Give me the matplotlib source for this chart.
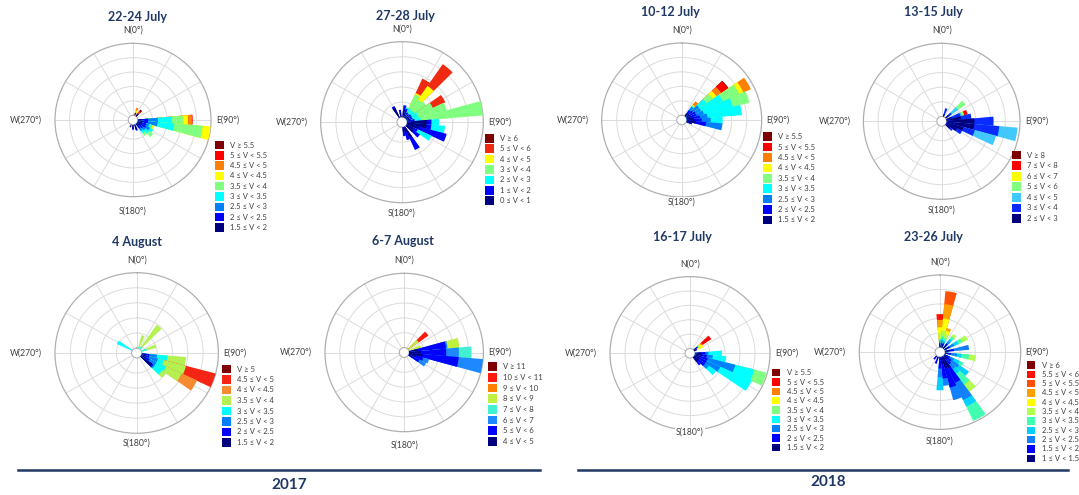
import numpy as np
import matplotlib
matplotlib.use("Agg")
import matplotlib.pyplot as plt
from matplotlib.patches import Rectangle
from matplotlib.lines import Line2D

W, H = 1079, 495
FONT = ["Lato", "DejaVu Sans"]
NAVY = "#1f3864"
TXT = "#404040"

# ---------------------------------------------------------------- data
# Speed classes are listed top-to-bottom as in each legend (fast -> calm).
# Each frequency row holds one direction sector, calm -> fast, in ring units
# (the outer ring is 5).

classes_9 = ["V ≥ 5.5", "5 ≤ V < 5.5", "4.5 ≤ V < 5", "4 ≤ V < 4.5",
             "3.5 ≤ V < 4", "3 ≤ V < 3.5", "2.5 ≤ V < 3", "2 ≤ V < 2.5",
             "1.5 ≤ V < 2"]

# 2017 -- 22-24 July
dirs_22jul = [20, 40, 90, 100, 110, 120, 130, 140, 160, 180, 200]
freq_22jul = [
    [0.20, 0.00, 0.00, 0.00, 0.00, 0.15, 0.20, 0.00, 0.00],
    [0.15, 0.10, 0.00, 0.00, 0.00, 0.00, 0.10, 0.10, 0.10],
    [0.30, 0.40, 0.67, 0.96, 0.75, 0.34, 0.28, 0.05, 0.00],
    [0.35, 0.35, 0.65, 1.15, 1.95, 0.55, 0.00, 0.00, 0.00],
    [0.30, 0.30, 0.20, 0.15, 0.10, 0.15, 0.00, 0.00, 0.00],
    [0.30, 0.35, 0.30, 0.25, 0.00, 0.00, 0.00, 0.00, 0.00],
    [0.25, 0.25, 0.20, 0.30, 0.35, 0.00, 0.00, 0.00, 0.00],
    [0.20, 0.20, 0.20, 0.20, 0.20, 0.00, 0.00, 0.00, 0.00],
    [0.35, 0.10, 0.00, 0.00, 0.00, 0.00, 0.00, 0.00, 0.00],
    [0.30, 0.05, 0.00, 0.00, 0.00, 0.00, 0.00, 0.00, 0.00],
    [0.20, 0.00, 0.00, 0.00, 0.00, 0.00, 0.00, 0.00, 0.00],
]

# 2017 -- 27-28 July
classes_27jul = ["V ≥ 6", "5 ≤ V < 6", "4 ≤ V < 5", "3 ≤ V < 4",
                 "2 ≤ V < 3", "1 ≤ V < 2", "0 ≤ V < 1"]
dirs_27jul = [330, 350, 10, 20, 30, 40, 50, 60, 70, 80, 90, 100, 110, 120,
              130, 150, 160, 170]
freq_27jul = [
    [0.75, 0.10, 0.00, 0.00, 0.00, 0.00, 0.00],
    [0.30, 0.20, 0.00, 0.00, 0.00, 0.00, 0.00],
    [0.45, 0.35, 0.00, 0.00, 0.00, 0.00, 0.00],
    [0.30, 0.30, 0.10, 0.00, 0.00, 0.00, 0.00],
    [0.20, 0.20, 0.30, 1.00, 0.10, 1.05, 0.00],
    [0.15, 0.20, 0.30, 0.85, 1.10, 1.75, 0.00],
    [0.20, 0.20, 0.30, 0.90, 0.00, 0.00, 0.00],
    [0.20, 0.20, 0.40, 1.10, 0.00, 0.90, 0.00],
    [0.20, 0.20, 0.40, 1.90, 0.00, 0.00, 0.00],
    [0.20, 0.30, 0.40, 4.10, 0.00, 0.00, 0.00],
    [1.30, 0.30, 0.50, 0.00, 0.00, 0.00, 0.00],
    [1.30, 0.30, 0.90, 0.00, 0.00, 0.00, 0.00],
    [0.80, 1.90, 0.00, 0.00, 0.00, 0.00, 0.00],
    [0.50, 0.30, 1.00, 0.00, 0.00, 0.00, 0.00],
    [0.60, 0.50, 0.00, 0.00, 0.00, 0.00, 0.00],
    [0.80, 0.90, 0.00, 0.00, 0.00, 0.00, 0.00],
    [0.40, 0.50, 0.00, 0.00, 0.00, 0.00, 0.00],
    [0.30, 0.30, 0.00, 0.00, 0.00, 0.00, 0.00],
]

# 2017 -- 4 August
classes_4aug = ["V ≥ 5", "4.5 ≤ V < 5", "4 ≤ V < 4.5", "3.5 ≤ V < 4",
                "3 ≤ V < 3.5", "2.5 ≤ V < 3", "2 ≤ V < 2.5", "1.5 ≤ V < 2"]
dirs_4aug = [20, 40, 70, 100, 110, 120, 130, 300]
freq_4aug = [
    [0.00, 0.00, 0.00, 0.10, 0.80, 0.00, 0.00, 0.00],
    [0.00, 0.00, 0.00, 0.20, 1.75, 0.00, 0.00, 0.00],
    [0.00, 0.00, 0.00, 0.35, 0.65, 0.00, 0.00, 0.00],
    [0.30, 0.20, 0.50, 0.70, 1.20, 0.00, 0.00, 0.00],
    [0.30, 0.20, 0.60, 0.40, 1.50, 0.00, 2.00, 0.00],
    [0.30, 0.30, 0.50, 0.70, 1.10, 1.10, 0.00, 0.00],
    [0.90, 0.10, 0.10, 0.60, 0.30, 0.00, 0.00, 0.00],
    [0.00, 0.00, 0.00, 1.10, 0.00, 0.00, 0.00, 0.00],
]

# 2017 -- 6-7 August
classes_6aug = ["V ≥ 11", "10 ≤ V < 11", "9 ≤ V < 10", "8 ≤ V < 9",
                "7 ≤ V < 8", "6 ≤ V < 7", "5 ≤ V < 6", "4 ≤ V < 5"]
dirs_6aug = [50, 70, 80, 90, 100, 110, 120]
freq_6aug = [
    [0.00, 0.00, 0.00, 0.00, 0.86, 0.00, 0.80, 0.00],
    [0.00, 0.00, 0.00, 0.10, 0.75, 0.00, 0.00, 0.00],
    [0.60, 1.90, 0.10, 0.00, 0.80, 0.00, 0.00, 0.00],
    [0.80, 1.70, 0.85, 0.85, 0.00, 0.00, 0.00, 0.00],
    [0.90, 2.45, 1.65, 0.00, 0.00, 0.00, 0.00, 0.00],
    [0.50, 0.50, 0.40, 0.00, 0.00, 0.00, 0.00, 0.00],
    [0.30, 0.50, 0.50, 0.00, 0.00, 0.00, 0.00, 0.00],
]

# 2018 -- 10-12 July
dirs_10jul = [40, 50, 60, 70, 80, 90, 100, 110]
freq_10jul = [
    [0.20, 0.30, 0.30, 0.05, 0.05, 0.05, 0.30, 0.00, 0.00],
    [0.30, 0.30, 0.50, 0.60, 0.50, 0.30, 0.40, 0.55, 0.05],
    [0.30, 0.40, 0.40, 1.60, 1.20, 0.30, 0.55, 0.00, 0.00],
    [0.30, 0.40, 0.50, 2.00, 1.15, 0.00, 0.00, 0.00, 0.00],
    [0.40, 0.50, 0.50, 2.30, 0.00, 0.00, 0.00, 0.00, 0.00],
    [0.50, 0.50, 0.60, 0.80, 0.00, 0.00, 0.00, 0.00, 0.00],
    [0.60, 0.70, 1.10, 0.00, 0.00, 0.00, 0.00, 0.00, 0.00],
    [0.30, 0.10, 0.00, 0.00, 0.00, 0.00, 0.00, 0.00, 0.00],
]

# 2018 -- 13-15 July
classes_13jul = ["V ≥ 8", "7 ≤ V < 8", "6 ≤ V < 7", "5 ≤ V < 6",
                 "4 ≤ V < 5", "3 ≤ V < 4", "2 ≤ V < 3"]
dirs_13jul = [20, 50, 70, 80, 90, 100, 110, 120, 130]
freq_13jul = [
    [0.20, 0.40, 0.00, 0.00, 0.00, 0.00, 0.00],
    [0.30, 0.20, 0.55, 0.60, 0.00, 0.00, 0.00],
    [0.40, 0.60, 0.10, 0.10, 0.05, 0.25, 0.00],
    [1.00, 0.70, 0.00, 0.00, 0.00, 0.00, 0.00],
    [1.90, 1.30, 0.00, 0.00, 0.00, 0.00, 0.00],
    [1.90, 1.70, 1.25, 0.00, 0.00, 0.00, 0.00],
    [1.20, 0.80, 1.50, 0.00, 0.00, 0.00, 0.00],
    [0.80, 0.40, 0.00, 0.00, 0.00, 0.00, 0.00],
    [0.40, 0.20, 0.00, 0.00, 0.00, 0.00, 0.00],
]

# 2018 -- 16-17 July
dirs_16jul = [50, 60, 90, 100, 110, 120, 130, 140]
freq_16jul = [
    [0.20, 0.10, 0.05, 0.05, 0.05, 0.15, 0.10, 0.70, 0.00],
    [0.10, 0.10, 0.00, 0.00, 0.00, 0.45, 0.00, 0.00, 0.00],
    [0.40, 0.30, 0.20, 0.90, 0.00, 0.00, 0.00, 0.00, 0.00],
    [0.50, 0.30, 0.40, 0.90, 0.00, 0.00, 0.00, 0.00, 0.00],
    [0.40, 0.50, 1.90, 1.30, 0.85, 0.00, 0.00, 0.00, 0.00],
    [0.40, 0.50, 1.00, 2.30, 0.00, 0.00, 0.00, 0.00, 0.00],
    [0.40, 0.50, 0.30, 0.60, 0.00, 0.00, 0.00, 0.00, 0.00],
    [0.40, 0.30, 0.00, 0.00, 0.00, 0.00, 0.00, 0.00, 0.00],
]

# 2018 -- 23-26 July
classes_23jul = ["V ≥ 6", "5.5 ≤ V < 6", "5 ≤ V < 5.5", "4.5 ≤ V < 5",
                 "4 ≤ V < 4.5", "3.5 ≤ V < 4", "3 ≤ V < 3.5", "2.5 ≤ V < 3",
                 "2 ≤ V < 2.5", "1.5 ≤ V < 2", "1 ≤ V < 1.5"]
dirs_23jul = [0, 10, 20, 40, 60, 80, 100, 120, 130, 140, 150, 160, 170,
              180, 200, 220]
freq_23jul = [
    [0.20, 0.10, 0.10, 0.10, 0.10, 0.40, 0.40, 0.50, 0.00, 0.40, 0.00],
    [0.15, 0.15, 0.15, 0.15, 0.20, 0.40, 0.80, 1.00, 0.90, 0.00, 0.00],
    [0.20, 0.10, 0.10, 0.10, 0.20, 0.30, 0.20, 0.20, 0.00, 0.00, 0.00],
    [0.20, 0.20, 0.20, 0.20, 0.20, 0.20, 0.00, 0.00, 0.00, 0.00, 0.00],
    [0.20, 0.20, 0.30, 0.30, 0.30, 0.40, 0.00, 0.00, 0.00, 0.00, 0.00],
    [0.30, 0.30, 1.00, 0.00, 0.00, 0.00, 0.00, 0.00, 0.00, 0.00, 0.00],
    [0.20, 0.20, 0.40, 0.30, 0.50, 0.45, 0.00, 0.00, 0.00, 0.00, 0.00],
    [0.20, 0.20, 0.30, 0.40, 0.30, 0.00, 0.00, 0.00, 0.00, 0.00, 0.00],
    [0.30, 0.30, 0.60, 0.80, 0.00, 0.00, 0.00, 0.00, 0.00, 0.00, 0.00],
    [0.30, 0.40, 0.40, 0.40, 0.90, 0.60, 0.00, 0.00, 0.00, 0.00, 0.00],
    [0.90, 1.10, 1.30, 0.50, 1.10, 0.00, 0.00, 0.00, 0.00, 0.00, 0.00],
    [0.80, 1.40, 0.90, 0.00, 0.00, 0.00, 0.00, 0.00, 0.00, 0.00, 0.00],
    [0.50, 1.00, 0.50, 0.00, 0.00, 0.00, 0.00, 0.00, 0.00, 0.00, 0.00],
    [0.20, 0.60, 0.60, 0.90, 0.00, 0.00, 0.00, 0.00, 0.00, 0.00, 0.00],
    [0.20, 0.30, 0.00, 0.00, 0.00, 0.00, 0.00, 0.00, 0.00, 0.00, 0.00],
    [0.20, 0.10, 0.00, 0.00, 0.00, 0.00, 0.00, 0.00, 0.00, 0.00, 0.00],
]

years = ["2017", "2018"]

# ---------------------------------------------------------------- styles
colors_9 = ["#7f0000", "#ff0000", "#ff8000", "#ffff00", "#80ff80",
            "#00ffff", "#0080ff", "#0000ff", "#00007f"]
colors_27jul = ["#7f0000", "#f02a10", "#ffff00", "#80ff80", "#00ffff",
                "#0000ff", "#00007f"]
colors_4aug = ["#7f0000", "#f52515", "#f58a30", "#b4f050", "#00ffff",
               "#0080ff", "#0000ff", "#00007f"]
colors_6aug = ["#7f0000", "#ff1a10", "#ff8000", "#c0f040", "#40f0d0",
               "#1e88ff", "#0000ff", "#00007f"]
colors_13jul = ["#7f0000", "#ff0000", "#ffff00", "#80ff80", "#40c8ff",
                "#0a2aff", "#00007f"]
colors_23jul = ["#7f0000", "#ff1000", "#ff5000", "#ffa000", "#ffff00",
                "#b0ff50", "#40ffb0", "#00d0ff", "#1080ff", "#0000ff",
                "#00007f"]

# ---------------------------------------------------------------- layout (px)
# box: circle centre x, centre y, x radius, y radius
# leg: left x of swatches, centre y of first row, row pitch
# sgap: distance from the circle bottom to the S label centre
panels = [
    dict(title="22-24 July", tpos=(137, 17), box=(133, 120, 78, 76.7),
         leg=(215, 145, 10.3), sgap=14, classes=classes_9, colors=colors_9,
         dirs=dirs_22jul, freq=freq_22jul),
    dict(title="27-28 July", tpos=(405, 16), box=(402, 122.2, 81.3, 80.5),
         leg=(485, 138.3, 10.4), sgap=10, classes=classes_27jul,
         colors=colors_27jul, dirs=dirs_27jul, freq=freq_27jul),
    dict(title="10-12 July", tpos=(670, 12), box=(681.7, 120, 80, 77),
         leg=(763, 136.7, 10.4), sgap=5, classes=classes_9, colors=colors_9,
         dirs=dirs_10jul, freq=freq_10jul),
    dict(title="13-15 July", tpos=(933, 12), box=(941.7, 121.3, 78.3, 78),
         leg=(1012, 155, 10.6), sgap=11, classes=classes_13jul,
         colors=colors_13jul, dirs=dirs_13jul, freq=freq_13jul),
    dict(title="4 August", tpos=(137, 242), box=(136.7, 353, 81.7, 80.3),
         leg=(222, 369, 10.5), sgap=10, classes=classes_4aug,
         colors=colors_4aug, dirs=dirs_4aug, freq=freq_4aug),
    dict(title="6-7 August", tpos=(403, 241), box=(404.2, 352.5, 79.2, 79.2),
         leg=(488, 366.7, 10.67), sgap=13, classes=classes_6aug,
         colors=colors_6aug, dirs=dirs_6aug, freq=freq_6aug),
    dict(title="16-17 July", tpos=(682, 237), box=(690, 353.3, 80, 76.7),
         leg=(772, 372.7, 9.33), sgap=2, classes=classes_9, colors=colors_9,
         dirs=dirs_16jul, freq=freq_16jul),
    dict(title="23-26 July", tpos=(933, 237), box=(940, 352.2, 80.7, 77.2),
         leg=(1027, 365, 9.33), sgap=12, classes=classes_23jul,
         colors=colors_23jul, dirs=dirs_23jul, freq=freq_23jul),
]

fig = plt.figure(figsize=(W / 100, H / 100), dpi=100)
fig.patch.set_facecolor("white")


def fx(x):
    return x / W


def fy(y):
    return 1 - y / H


def draw_rose(p):
    cx, cy, rx, ry = p["box"]
    ax = fig.add_axes([fx(cx - rx), fy(cy + ry), 2 * rx / W, 2 * ry / H],
                      projection="polar")
    ax.set_aspect("auto")
    ax.set_theta_zero_location("N")
    ax.set_theta_direction(-1)
    ax.set_ylim(0, 5)
    ax.set_rorigin(-0.33)
    ax.set_xticks(np.radians(np.arange(0, 360, 30)))
    ax.set_yticks([1, 2, 3, 4])
    ax.set_xticklabels([])
    ax.set_yticklabels([])
    ax.tick_params(length=0)
    ax.grid(True, color="#dcdcdc", lw=0.7)
    ax.set_axisbelow(True)
    ax.spines["polar"].set_color("#b0b0b0")
    ax.spines["polar"].set_linewidth(0.9)
    ax.spines["inner"].set_color("#a8a8a8")
    ax.spines["inner"].set_linewidth(0.7)

    # stacked sectors: draw each cumulative length from the fastest class
    # inwards so the calmer segments sit on top without seams
    seg_colors = p["colors"][::-1]          # calm -> fast
    width = np.radians(10.4)
    for d, row in zip(p["dirs"], p["freq"]):
        cum = np.cumsum(row)
        for k in range(len(row) - 1, -1, -1):
            if row[k] > 0:
                ax.bar(np.radians(d), cum[k], width=width, bottom=0,
                       color=seg_colors[k], edgecolor="none", linewidth=0,
                       zorder=3)

    # compass labels
    kw = dict(fontsize=6.2, color=TXT, family=FONT)
    fig.text(fx(cx), fy(cy - ry - 13), "N(0°)", ha="center", va="center", **kw)
    fig.text(fx(cx), fy(cy + ry + p["sgap"]), "S(180°)", ha="center",
             va="center", zorder=5,
             bbox=dict(facecolor="white", edgecolor="none", pad=0.6), **kw)
    fig.text(fx(cx + rx + 5), fy(cy), "E(90°)", ha="left", va="center", **kw)
    fig.text(fx(cx - rx - 13), fy(cy), "W(270°)", ha="right", va="center", **kw)

    # title
    tx, ty = p["tpos"]
    fig.text(fx(tx), fy(ty), p["title"], ha="center", va="center",
             fontsize=9, fontweight="bold", color=NAVY, family=FONT)

    # legend
    lx, ly, dy = p["leg"]
    sq = dy - 1.8
    for i, (lab, c) in enumerate(zip(p["classes"], p["colors"])):
        yc = ly + i * dy
        fig.add_artist(Rectangle((fx(lx), fy(yc + sq / 2)), sq / W, sq / H,
                                 transform=fig.transFigure, facecolor=c,
                                 edgecolor="none"))
        fig.text(fx(lx + 15), fy(yc), lab, ha="left", va="center",
                 fontsize=5.5, color=TXT, family=FONT)


for p in panels:
    draw_rose(p)

# year dividers
for (x0, x1), (tx, ty), yr in zip([(18, 540), (578, 1068)],
                                  [(289, 485), (828, 482)], years):
    fig.add_artist(Line2D([fx(x0), fx(x1)], [fy(470), fy(470)],
                          transform=fig.transFigure, color=NAVY, lw=1.8))
    fig.text(fx(tx), fy(ty), yr, ha="center", va="center", fontsize=11,
             fontweight="bold", color=NAVY, family=FONT)

fig.savefig("out.png", dpi=100, facecolor="white")
